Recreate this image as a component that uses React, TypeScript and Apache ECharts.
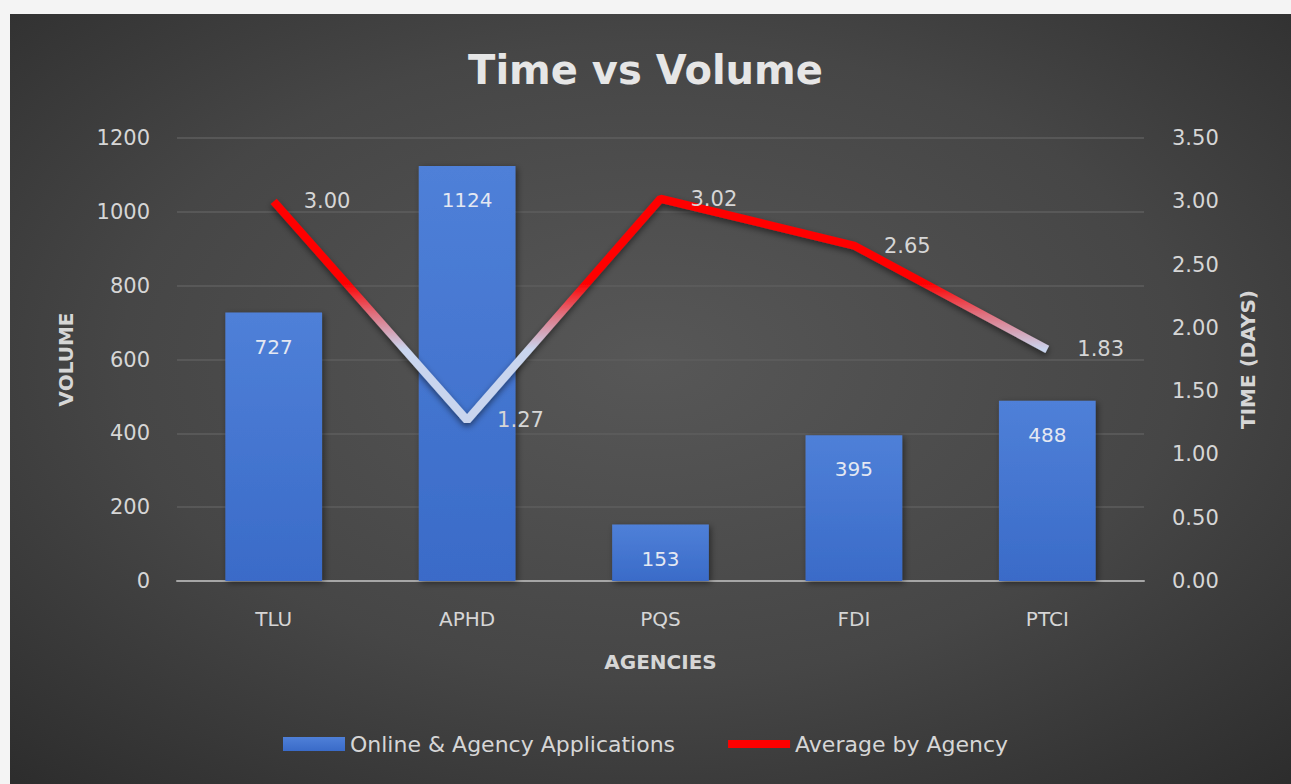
import React, { useEffect, useRef } from "react";
import * as echarts from "echarts";

const categories = ["TLU", "APHD", "PQS", "FDI", "PTCI"];
const volumes = [727, 1124, 153, 395, 488];
const avgDays = [3.0, 1.27, 3.02, 2.65, 1.83];
const leftTicks = { min: 0, max: 1200, interval: 200 };
const rightTicks = { min: 0, max: 3.5, interval: 0.5 };

const FONT = "'DejaVu Sans', 'Open Sans', sans-serif";
const TXT = "#d6d6d6";

export default function App() {
  const ref = useRef<HTMLDivElement>(null);
  useEffect(() => {
    if (!ref.current) return;
    const chart = echarts.init(ref.current, undefined, { renderer: "svg" });
    chart.setOption({
      animation: false,
      backgroundColor: "#f4f4f4",
      textStyle: { fontFamily: FONT },
      graphic: [
        {
          type: "rect",
          z: -10,
          silent: true,
          shape: { x: 10, y: 14, width: 1281, height: 770 },
          style: {
            fill: new echarts.graphic.RadialGradient(0.5, 0.45, 0.75, [
              { offset: 0, color: "#575757" },
              { offset: 0.55, color: "#464646" },
              { offset: 1, color: "#2c2c2c" },
            ]),
          },
        },
      ],
      title: {
        text: "Time vs Volume",
        left: "center",
        top: 45,
        textStyle: { color: "#e6e6e6", fontSize: 40, fontWeight: "bold", fontFamily: FONT },
      },
      grid: { left: 177, right: 147, top: 138, bottom: 203 },
      legend: {
        bottom: 24,
        left: "center",
        itemGap: 53,
        itemWidth: 62,
        itemHeight: 14,
        textStyle: { color: TXT, fontSize: 22, fontFamily: FONT },
        data: [
          { name: "Online & Agency Applications", icon: "rect" },
          {
            name: "Average by Agency",
            icon: "path://M0,0M0,3L62,3L62,11L0,11ZM62,14",
            itemStyle: { color: "#ff0000", opacity: 1 },
          },
        ],
      },
      xAxis: {
        type: "category",
        data: categories,
        name: "AGENCIES",
        nameLocation: "middle",
        nameGap: 71,
        nameTextStyle: { color: TXT, fontSize: 20, fontWeight: "bold" },
        axisTick: { show: false },
        axisLine: { lineStyle: { color: "#a6a6a6", width: 2 } },
        axisLabel: { color: TXT, fontSize: 20, margin: 28 },
      },
      yAxis: [
        {
          type: "value",
          ...leftTicks,
          name: "VOLUME",
          nameLocation: "middle",
          nameGap: 101,
          nameRotate: 90,
          nameTextStyle: { color: TXT, fontSize: 20, fontWeight: "bold" },
          axisLabel: { color: TXT, fontSize: 21, margin: 27, formatter: (v: number) => String(v) },
          axisLine: { show: false },
          axisTick: { show: false },
          splitLine: { lineStyle: { color: "#5e5e5e", width: 1.5 } },
        },
        {
          type: "value",
          ...rightTicks,
          name: "TIME (DAYS)",
          nameLocation: "middle",
          nameGap: 94,
          nameRotate: 90,
          nameTextStyle: { color: TXT, fontSize: 20, fontWeight: "bold" },
          axisLabel: { color: TXT, fontSize: 21, margin: 28, formatter: (v: number) => v.toFixed(2) },
          axisLine: { show: false },
          axisTick: { show: false },
          splitLine: { show: false },
        },
      ],
      series: [
        {
          name: "Online & Agency Applications",
          type: "bar",
          data: volumes,
          barWidth: "50%",
          itemStyle: {
            color: new echarts.graphic.LinearGradient(0, 0, 0, 1, [
              { offset: 0, color: "#4f80d8" },
              { offset: 1, color: "#3a6bc8" },
            ]),
            shadowColor: "rgba(0,0,0,0.45)",
            shadowBlur: 6,
            shadowOffsetX: 2,
            shadowOffsetY: 2,
          },
          label: {
            show: true,
            position: "insideTop",
            distance: 24,
            color: "#e4e8f2",
            fontSize: 20,
          },
        },
        {
          name: "Average by Agency",
          type: "line",
          yAxisIndex: 1,
          data: avgDays,
          symbol: "circle",
          symbolSize: 2,
          showSymbol: true,
          lineStyle: {
            width: 8,
            color: new echarts.graphic.LinearGradient(0, 0, 0, 1, [
              { offset: 0, color: "#ff0000" },
              { offset: 0.38, color: "#ff0000" },
              { offset: 0.52, color: "#e0707e" },
              { offset: 0.68, color: "#c9d5ee" },
              { offset: 1, color: "#c9d5ee" },
            ]),
            shadowColor: "rgba(0,0,0,0.5)",
            shadowBlur: 6,
            shadowOffsetY: 3,
          },
          itemStyle: { color: "#ff0000", opacity: 0 },
          label: {
            show: true,
            position: "right",
            distance: 29,
            color: TXT,
            fontSize: 21,
            opacity: 1,
            formatter: (p: any) => Number(p.value).toFixed(2),
          },
          z: 5,
        },
      ],
    });
    return () => chart.dispose();
  }, []);
  return (
    <div
      ref={ref}
      style={{ position: "fixed", left: 0, top: 0, width: 1291, height: 784 }}
    />
  );
}
